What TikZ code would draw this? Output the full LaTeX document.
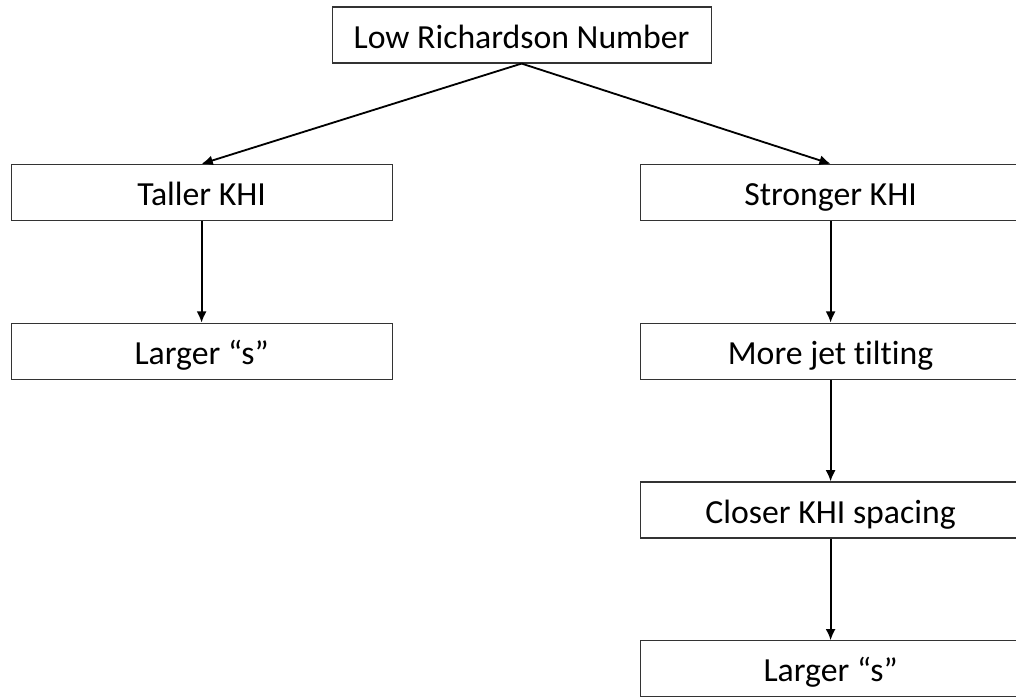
\documentclass[tikz,border=0pt]{standalone}
\usepackage{fontspec}
\setmainfont{Carlito}[Ligatures=NoCommon]
\usetikzlibrary{positioning,arrows.meta}

\begin{document}
\begin{tikzpicture}[node distance=3.97cm, auto,
        block/.style={rectangle, draw=black!80, line width=0.8pt, minimum width=9.525cm, minimum height=1.4cm, inner sep=0pt, text height=20pt, text depth=1.5pt, font=\fontsize{24}{28}\selectfont},
        link/.style={-{Latex[length=2.8mm, width=2.5mm]}, line width=1.3pt}]
        \useasboundingbox (0,0) rectangle (25.4,-17.4);
        \node[block, minimum width=9.475cm] (ri) at (13.04,-0.875) {Low Richardson Number};
        \node[block] (taller) at (5.04,-4.81) {Taller KHI};
        \node[block, right of=taller, node distance=15.725cm] (stronger) {Stronger KHI};
        \node[block, below of=taller] (largerA) {Larger “s”};
        \node[block, below of=stronger] (tilt) {More jet tilting};
        \node[block, below of=tilt] (spacing) {Closer KHI spacing};
        \node[block, below of=spacing] (largerB) {Larger “s”};
        \draw[link] (ri.south) -- (taller.north);
        \draw[link] (ri.south) -- (stronger.north);
        \draw[link] (taller) -- (largerA);
        \draw[link] (stronger) -- (tilt);
        \draw[link] (tilt) -- (spacing);
        \draw[link] (spacing) -- (largerB);
    \end{tikzpicture}
\end{document}
